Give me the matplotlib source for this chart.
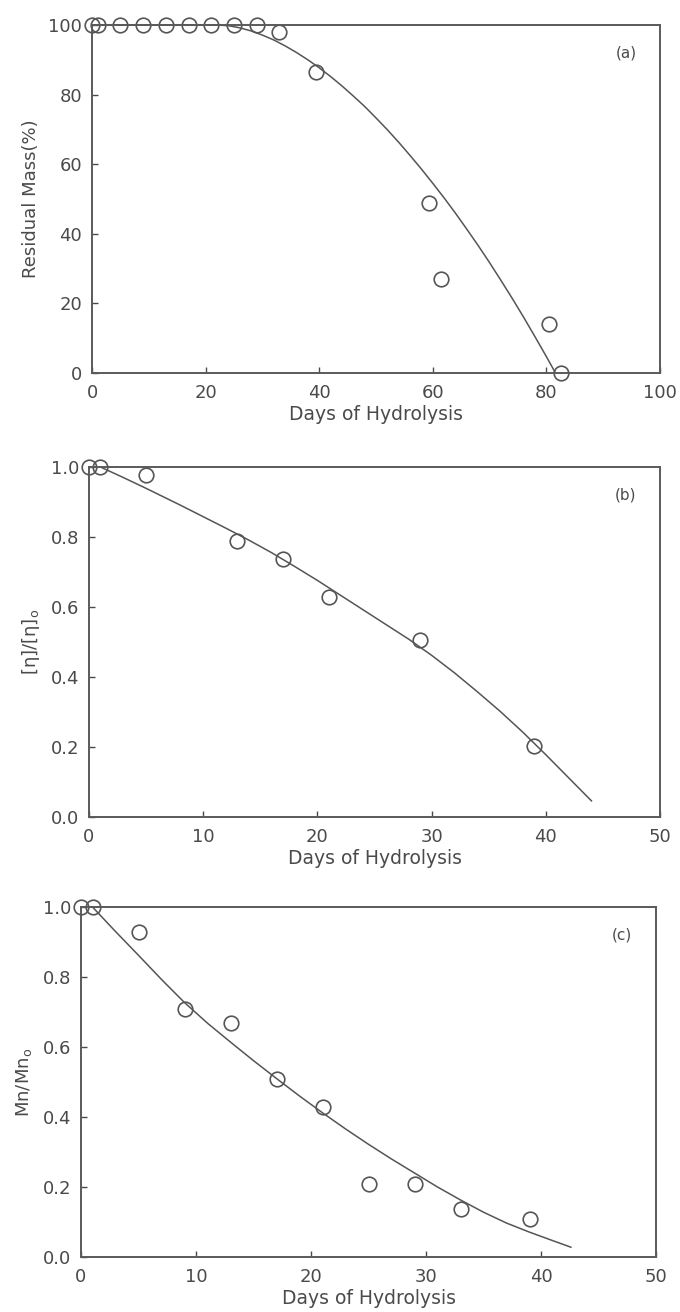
import numpy as np
import matplotlib
matplotlib.use("Agg")
from matplotlib import pyplot as plt

# panel (a): residual mass
a_days = [0, 1, 5, 9, 13, 17, 21, 25, 29, 33, 39.5, 59.4, 61.5, 80.5, 82.5]
a_mass = [100, 100, 100, 100, 100, 100, 100, 100, 100, 98, 86.6, 48.8, 27, 14.2, 0]
a_fit_days = [0, 22, 24, 26, 28, 30, 32, 34, 36, 38, 40, 42, 44, 46, 48, 50, 52, 54,
              56, 58, 60, 62, 64, 66, 68, 70, 72, 74, 76, 78, 80, 81.6]
a_fit_mass = [100, 100, 99.8, 99.2, 98.3, 97.1, 95.7, 94.0, 92.1, 90.0, 87.7, 85.2,
              82.5, 79.6, 76.6, 73.3, 69.9, 66.3, 62.5, 58.6, 54.5, 50.3, 45.9, 41.3,
              36.6, 31.7, 26.6, 21.4, 16.0, 10.4, 4.7, 0]

# panel (b): intrinsic viscosity ratio
b_days = [0, 1, 5, 13, 17, 21, 29, 39]
b_visc = [1.0, 1.0, 0.978, 0.788, 0.737, 0.628, 0.507, 0.204]
b_fit_days = [1, 3, 5, 8, 10, 12, 14, 16, 18, 20, 22, 24, 26, 28, 30, 32, 34, 36,
              38, 40, 42, 44]
b_fit_visc = [1.0, 0.970, 0.939, 0.891, 0.858, 0.825, 0.791, 0.755, 0.716, 0.676,
              0.634, 0.592, 0.550, 0.508, 0.462, 0.412, 0.358, 0.302, 0.242, 0.178,
              0.112, 0.046]

# panel (c): Mn ratio
c_days = [0, 1, 5, 9, 13, 17, 21, 25, 29, 33, 39]
c_mn = [1.0, 1.0, 0.929, 0.708, 0.669, 0.508, 0.429, 0.208, 0.208, 0.136, 0.108]
c_fit_days = [1, 3, 5, 7, 9, 11, 13, 15, 17, 19, 21, 23, 25, 27, 29, 31, 33, 35, 37,
              39, 41, 42.6]
c_fit_mn = [1.0, 0.930, 0.862, 0.793, 0.727, 0.668, 0.614, 0.561, 0.510, 0.460,
            0.412, 0.366, 0.322, 0.280, 0.240, 0.200, 0.163, 0.128, 0.097, 0.071,
            0.047, 0.028]

ink = "#4a4a4a"
plt.rcParams["font.family"] = "DejaVu Sans"

fig = plt.figure(figsize=(6.8, 13.12), dpi=100)
H = 1312.0
W = 680.0

def make_axes(left, right, top, bottom):
    return fig.add_axes([left / W, 1 - bottom / H, (right - left) / W, (bottom - top) / H])

def style(ax, xlim, xticks, ylim, yticks, yfmt, ylabel, tag):
    ax.set_xlim(*xlim)
    ax.set_ylim(*ylim)
    ax.set_xticks(xticks)
    ax.set_yticks(yticks)
    ax.set_yticklabels([yfmt % v for v in yticks])
    for s in ax.spines.values():
        s.set_color("#5a5a5a")
        s.set_linewidth(1.4)
    ax.tick_params(direction="in", length=4, width=1, colors=ink, labelsize=13,
                   top=False, right=False)
    ax.tick_params(axis="x", pad=8)
    ax.tick_params(axis="y", pad=7)
    ax.set_xlabel("Days of Hydrolysis", fontsize=13.5, color=ink, labelpad=2)
    ax.set_ylabel(ylabel, fontsize=13, color=ink, labelpad=6)
    ax.text(0.94, 0.92, tag, transform=ax.transAxes, fontsize=11, color=ink,
            ha="center", va="center")

def draw(ax, px, py, fx, fy):
    ax.plot(fx, fy, color="#555555", lw=1.1, clip_on=False)
    ax.plot(px, py, "o", ms=10.5, mfc="none", mec="#555555", mew=1.2, clip_on=False)

ax1 = make_axes(92, 660, 25, 373)
draw(ax1, a_days, a_mass, a_fit_days, a_fit_mass)
style(ax1, (0, 100), range(0, 101, 20), (0, 100), list(range(0, 101, 20)), "%d",
      "Residual Mass(%)", "(a)")

ax2 = make_axes(89, 660, 467, 817)
draw(ax2, b_days, b_visc, b_fit_days, b_fit_visc)
style(ax2, (0, 50), range(0, 51, 10), (0, 1.0), list(np.arange(0, 1.01, 0.2)), "%.1f",
      "[η]/[η]$_\\mathregular{o}$", "(b)")

ax3 = make_axes(81, 656, 907, 1257)
draw(ax3, c_days, c_mn, c_fit_days, c_fit_mn)
style(ax3, (0, 50), range(0, 51, 10), (0, 1.0), list(np.arange(0, 1.01, 0.2)), "%.1f",
      "Mn/Mn$_\\mathregular{o}$", "(c)")

fig.savefig("out.png", dpi=100)
